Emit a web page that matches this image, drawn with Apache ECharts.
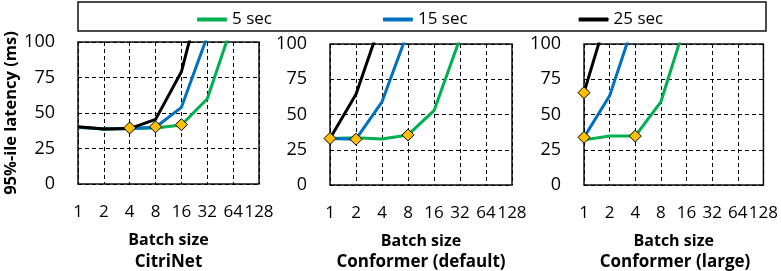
<!DOCTYPE html>
<html>
<head>
<meta charset="utf-8">
<script src="https://cdn.jsdelivr.net/npm/echarts@6/dist/echarts.min.js"></script>
<style>
  html, body { margin: 0; padding: 0; background: #fff; }
  #chart { width: 781px; height: 271px; }
</style>
</head>
<body>
<div id="chart"></div>
<script>
// ---- data ----
var batchSizes = ['1', '2', '4', '8', '16', '32', '64', '128'];
var seriesNames = ['5 sec', '15 sec', '25 sec'];
var panelTitles = ['CitriNet', 'Conformer (default)', 'Conformer (large)'];
var yTicks = [0, 25, 50, 75, 100];

var citrinet5 = [40, 38.7, 39, 39.5, 41.5, 60, 114, null];
var citrinet15 = [40, 38.7, 39, 40, 54, 104, null, null];
var citrinet25 = [40.3, 38.7, 39, 45.5, 79, 150, null, null];
var citrinetMarks = [[2, 39.5], [3, 40.3], [4, 41.8]];

var confDef5 = [33, 33.5, 32.6, 35.5, 52.7, 104, null, null];
var confDef15 = [33, 32.5, 59, 109, null, null, null, null];
var confDef25 = [33, 64.3, 118, null, null, null, null, null];
var confDefMarks = [[0, 33], [1, 32.5], [3, 35.5]];

var confLarge5 = [32, 34.7, 34.7, 59, 117, null, null, null];
var confLarge15 = [33.8, 63.3, 118, null, null, null, null, null];
var confLarge25 = [65.5, 126, null, null, null, null, null, null];
var confLargeMarks = [[0, 65.5], [0, 33.8], [2, 34.7]];

var panels = [
  { lines: [citrinet5, citrinet15, citrinet25], marks: citrinetMarks },
  { lines: [confDef5, confDef15, confDef25], marks: confDefMarks },
  { lines: [confLarge5, confLarge15, confLarge25], marks: confLargeMarks }
];

// ---- styles / layout ----
var colors = ['#00B050', '#0070C0', '#000000'];
var FONT = 'Open Sans';
var grids = [
  { left: 78, top: 42, width: 181, height: 142 },
  { left: 330, top: 44, width: 182, height: 141 },
  { left: 584, top: 44, width: 182, height: 141 }
];

var option = {
  animation: false,
  backgroundColor: '#fff',
  textStyle: { fontFamily: FONT },
  legend: {
    data: seriesNames.map(function (n) { return { name: n, icon: 'roundRect' }; }),
    left: 192, top: 6,
    itemWidth: 30, itemHeight: 4, itemGap: 111,
    textStyle: { fontFamily: FONT, fontSize: 17, color: '#000' }
  },
  grid: [], xAxis: [], yAxis: [], series: [],
  graphic: [
    { type: 'rect', shape: { x: 78, y: 2, width: 688, height: 29 },
      style: { fill: 'none', stroke: '#111', lineWidth: 1.5 }, z: 0 }
  ]
};

grids.forEach(function (g, i) {
  option.grid.push({ left: g.left, top: g.top, width: g.width, height: g.height,
    show: true, borderColor: '#111', borderWidth: 1.5, backgroundColor: 'transparent' });
  option.xAxis.push({
    type: 'category', gridIndex: i, data: batchSizes, boundaryGap: false,
    axisLine: { show: false }, axisTick: { show: false },
    axisLabel: { interval: 0, margin: 20, fontSize: 17, color: '#000', fontFamily: FONT },
    splitLine: { show: true, lineStyle: { color: '#000', type: [4, 3], width: 1 } },
    name: 'Batch size', nameLocation: 'middle', nameGap: 48,
    nameTextStyle: { fontFamily: FONT, fontSize: 16, fontWeight: 'bold', color: '#000' }
  });
  var ya = {
    type: 'value', gridIndex: i, min: yTicks[0], max: yTicks[yTicks.length - 1], interval: 25,
    axisLine: { show: false }, axisTick: { show: false },
    axisLabel: { margin: 23, fontSize: 18, color: '#000', fontFamily: FONT },
    splitLine: { show: true, lineStyle: { color: '#000', type: [4, 3], width: 1 } }
  };
  if (i === 0) {
    ya.name = '95%-ile latency (ms)';
    ya.nameLocation = 'middle';
    ya.nameGap = 55;
    ya.nameTextStyle = { fontFamily: FONT, fontSize: 16.5, fontWeight: 'bold', color: '#000' };
  }
  option.yAxis.push(ya);

  panels[i].lines.forEach(function (arr, k) {
    option.series.push({
      type: 'line', name: seriesNames[k], xAxisIndex: i, yAxisIndex: i,
      data: arr, symbol: 'none', clip: true, connectNulls: false,
      color: colors[k],
      lineStyle: { color: colors[k], width: 3 }, z: 3 + k
    });
  });
  option.series.push({
    type: 'scatter', name: 'marks' + i, xAxisIndex: i, yAxisIndex: i,
    data: panels[i].marks, symbol: 'diamond', symbolSize: 12,
    itemStyle: { color: '#FFC000', borderColor: '#000', borderWidth: 1, opacity: 1 },
    z: 10
  });
  option.graphic.push({
    type: 'text', x: g.left + g.width / 2, y: 262,
    style: { text: panelTitles[i], fontFamily: FONT, fontSize: 17, fontWeight: 'bold',
      fill: '#000', textAlign: 'center', textVerticalAlign: 'middle' }
  });
});

var chart = echarts.init(document.getElementById('chart'), null, { renderer: 'canvas' });
chart.setOption(option);
</script>
</body>
</html>
